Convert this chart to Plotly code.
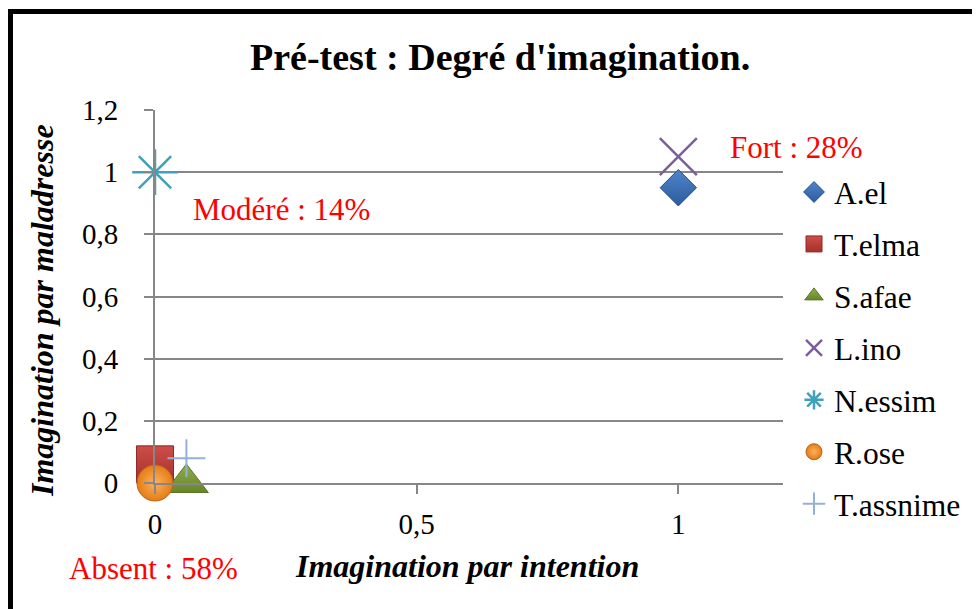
import plotly.graph_objects as go

# ---- data ----
names = ["A.el", "T.elma", "S.afae", "L.ino", "N.essim", "R.ose", "T.assnime"]
x_intention = [1, 0, 0.06, 1, 0, 0, 0.06]
y_maladresse = [0.95, 0.06, 0, 1.05, 1, 0, 0.08]
x_ticks = [0, 0.5, 1]
y_ticks = [0, 0.2, 0.4, 0.6, 0.8, 1, 1.2]

# ---- styles ----
symbols = ["diamond", "square", "triangle-up", "x-thin-open", "asterisk-open", "circle", "cross-thin-open"]
colors = ["#4F84C9", "#CE4D48", "#8FAE4C", "#7B5E9E", "#3FA2BA", "#E67C15", "#94B0D8"]
grad_type = ["vertical", "vertical", "vertical", "none", "none", "radial", "none"]
grad_col = ["#2D5C9E", "#A5302C", "#66862A", "#7B5E9E", "#3FA2BA", "#FAB160", "#94B0D8"]
edge = ["#24508F", "#8E2A27", "#5B7526", "#7B5E9E", "#3FA2BA", "#B5651D", "#94B0D8"]
sizes = [28, 37, 38, 37, 38, 36, 27]
lw = [1, 1, 1, 2.5, 2.5, 1, 2]

FONT = "Times New Roman, Liberation Serif, DejaVu Serif, serif"

OFF = 8  # page body margin
L, R, T, B = 155 - OFF, 783 - OFF, 110 - OFF, 483 - OFF
W, H = 980, 609


def px(x):
    return (x - OFF - L) / (R - L)


def py(y):
    return (B - (y - OFF)) / (B - T)


fig = go.Figure()
for i in range(len(names)):
    fig.add_trace(go.Scatter(
        x=[x_intention[i]], y=[y_maladresse[i]], name=names[i], mode="markers",
        legendgroup=names[i], legendrank=i + 1,
        marker=dict(symbol=symbols[i], size=sizes[i], color=colors[i],
                    gradient=dict(type=grad_type[i], color=grad_col[i]),
                    line=dict(color=edge[i], width=lw[i])),
        cliponaxis=False,
    ))

fig.update_layout(
    width=W, height=H,
    margin=dict(l=L, r=W - R, t=T, b=H - B, pad=0),
    paper_bgcolor="white", plot_bgcolor="white",
    separators=", ",
    font=dict(family=FONT, size=29, color="black"),
    showlegend=True,
    legend=dict(x=px(794), y=py(165), xanchor="left", yanchor="top",
                font=dict(family=FONT, size=31.5, color="black"),
                tracegroupgap=8, itemsizing="trace", bgcolor="rgba(0,0,0,0)"),
    xaxis=dict(range=[0, 1.2], tickvals=x_ticks, showgrid=False, zeroline=False,
               showline=True, linecolor="#878787", linewidth=2,
               ticks="outside", ticklen=9, tickwidth=2, tickcolor="#878787",
               ticklabelstandoff=5,
               tickfont=dict(family=FONT, size=29)),
    yaxis=dict(range=[0, 1.2], tickvals=y_ticks, showgrid=True, gridcolor="#878787", gridwidth=2,
               zeroline=False, showline=True, linecolor="#878787", linewidth=2,
               ticks="outside", ticklen=9, tickwidth=2, tickcolor="#878787",
               ticklabelstandoff=20,
               tickfont=dict(family=FONT, size=29)),
    shapes=[dict(type="rect", xref="paper", yref="paper",
                 x0=px(10.5), x1=px(995), y0=py(625), y1=py(11.5),
                 line=dict(color="black", width=5), fillcolor="rgba(0,0,0,0)", layer="below")],
)

ann = [
    ("<b>Pré-test : Degré d'imagination.</b>", 500, 57, 38, "black", 0),
    ("<b><i>Imagination par intention</i></b>", 467, 566, 32, "black", 0),
    ("<b><i>Imagination par maladresse</i></b>", 42, 311, 32, "black", -90),
    ("Fort : 28%", 796, 147, 31, "red", 0),
    ("Modéré : 14%", 281, 209, 31, "red", 0),
    ("Absent : 58%", 153, 568, 31, "red", 0),
]
for text, x, y, s, c, ang in ann:
    fig.add_annotation(text=text, xref="paper", yref="paper", x=px(x), y=py(y),
                       xanchor="center", yanchor="middle", showarrow=False,
                       textangle=ang, font=dict(family=FONT, size=s, color=c))

fig.write_html("out.html")
